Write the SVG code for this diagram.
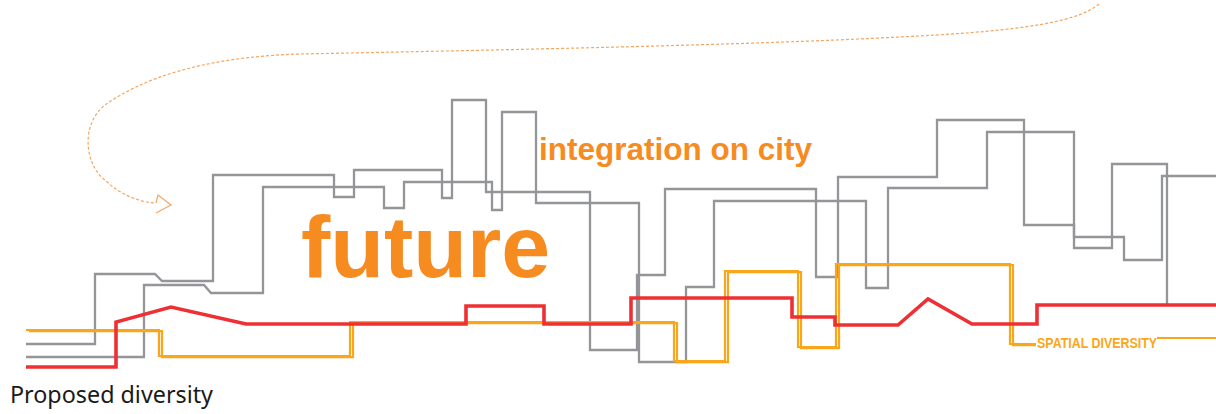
<svg xmlns="http://www.w3.org/2000/svg" width="1216" height="414" viewBox="0 0 1216 414">
  <style>
    .gray { fill: none; stroke: #939598; stroke-width: 2.3; stroke-linejoin: miter; }
    .orng { fill: none; stroke: #FAA61A; stroke-width: 2.2; stroke-linejoin: miter; }
    .red { fill: none; stroke: #EE3035; stroke-width: 3.6; stroke-linejoin: miter; }
    .dash { fill: none; stroke: #F6A55E; stroke-width: 1.2; stroke-dasharray: 3 2; }
    .arrow { fill: none; stroke: #F6A55E; stroke-width: 1.2; }
    .big { font-family: "Liberation Sans", Arial, sans-serif; font-weight: bold; fill: #F68B1F; }
  </style>
  <rect width="1216" height="414" fill="#ffffff"/>

  <g id="skyline-gray">
    <polyline class="gray" points="26,344 95,344 95,274 155,274 162,281 213,281 213,175 334,175 334,197 354,197 354,170 442,170 442,198 452,198 452,100 486,100 486,192 590,192 590,350 637,350 637,275 665,275 665,189 816,189 816,277 838,277 838,177 937,177 937,120 1024,120 1024,225 1074,225 1074,237 1124,237 1124,260 1162,260 1162,176 1216,176"/>
    <polyline class="gray" points="26,357 144,357 144,285 204,285 211,293 263,293 263,187 384,187 384,208 404,208 404,182 492,182 492,210 502,210 502,112 536,112 536,203 639,203 639,362 686,362 686,287 714,287 714,201 866,201 866,288 888,288 888,188 987,188 987,132 1074,132 1074,248 1112,248 1112,164 1167,164 1167,304"/>
  </g>

  <g id="spatial-diversity-line">
    <polyline class="orng" points="26,330 159,330 159,356 350,356 350,322 674,322 674,361 725,361 725,271 798,271 798,347 836,347 836,264 1010,264 1010,344 1036,344"/>
    <polyline class="orng" transform="translate(3,1.2)" points="26,330 159,330 159,356 350,356 350,322 674,322 674,361 725,361 725,271 798,271 798,347 836,347 836,264 1010,264 1010,344 1033,344"/>
    <polyline class="orng" points="1157,338 1216,338"/>
  </g>

  <g id="proposed-line">
    <polyline class="red" points="26,367 116,367 116,322 171,307 246,324 466,324 466,306 544,306 544,324 631,324 631,298 792,298 792,317 835,317 835,325 898,325 928,299 972,324 1037,324 1037,305 1216,305"/>
  </g>

  <g id="connectors">
    <path class="dash" d="M1099,4 C1075,25 1000,32 900,37 C750,45 500,50 300,54 C200,57 140,80 105,105 C80,125 85,165 105,180 C120,195 140,202 155,203"/>
    <polyline class="arrow" points="156,203 158,195 171,205 156,213"/>
  </g>

  <g id="label-future">
    <text class="big" x="301" y="277" font-size="88">future</text>
  </g>
  <g id="label-integration">
    <text class="big" x="539" y="160" font-size="31" textLength="273" lengthAdjust="spacingAndGlyphs">integration on city</text>
  </g>
  <g id="label-spatial">
    <text x="1037" y="347.5" font-family="Liberation Sans, Arial, sans-serif" font-weight="bold" font-size="14" fill="#FAA61A" textLength="120" lengthAdjust="spacingAndGlyphs">SPATIAL DIVERSITY</text>
  </g>
  <g id="label-proposed">
    <text x="10" y="403" font-family="Noto Sans, Liberation Sans, sans-serif" font-size="24" fill="#1a1a1a" textLength="203" lengthAdjust="spacingAndGlyphs">Proposed diversity</text>
  </g>
</svg>
